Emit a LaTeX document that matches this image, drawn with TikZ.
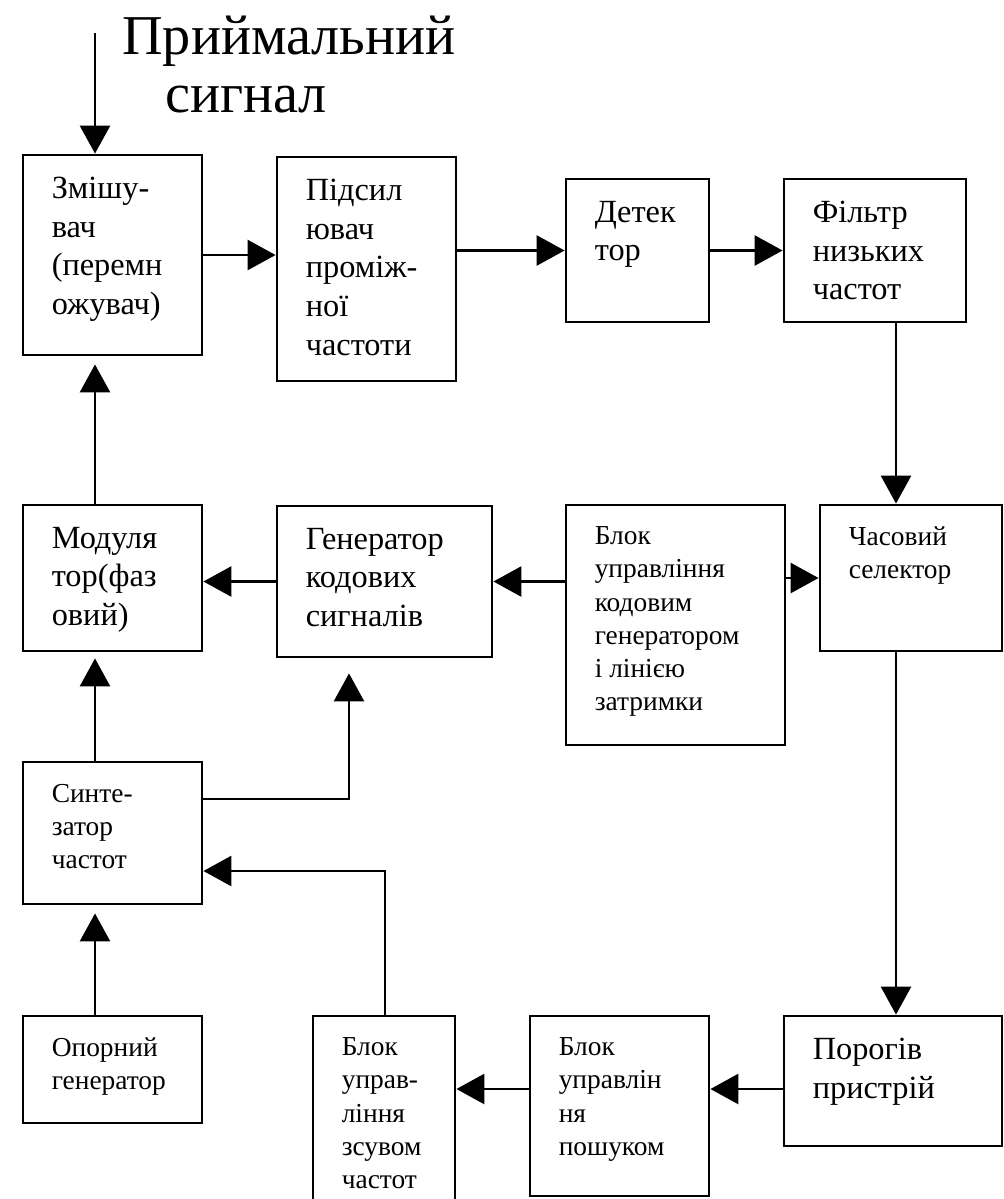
\documentclass[tikz,border=0pt]{standalone}
\usepackage{fontspec}
\setmainfont{Liberation Serif}
\usepackage{tikz}
\usetikzlibrary{arrows.meta}

\newcommand{\blocktext}[3]{\parbox[c][#2][t]{#1}{\raggedright\leftskip=0.72cm\vspace*{0.55cm}#3}}

\begin{document}
\begin{tikzpicture}[
    x=0.025cm, y=-0.025cm,
    >={Triangle[length=7mm, width=7.5mm]},
    block/.style={draw, line width=2pt, inner sep=0pt},
    big/.style={font=\fontsize{23}{27.5}\selectfont},
    small/.style={font=\fontsize{19.5}{23.5}\selectfont},
    arr/.style={->, line width=2pt},
]
    \useasboundingbox (0,0) rectangle (1004,1199);

    % ── Title ─────────────────────────────────────
    \node[anchor=north west, align=left, inner sep=0pt,
          font=\fontsize{40}{41}\selectfont] (title) at (122,16)
         {Приймальний\\\hspace*{1.07cm}сигнал};

    % ── Receiver chain (top row) ──────────────────
    \node[block, big] (mix) at (112.5,255)
         {\blocktext{4.475cm}{5cm}{Змішу-\\вач\\(перемн\\ожувач)}};
    \node[block, big] (amp) at (366.5,269)
         {\blocktext{4.475cm}{5.6cm}{Підсил\\ювач\\проміж-\\ної\\частоти}};
    \node[block, big] (det) at (637.5,250.5)
         {\blocktext{3.575cm}{3.575cm}{Детек\\тор}};
    \node[block, big] (flt) at (875,250.5)
         {\blocktext{4.55cm}{3.575cm}{Фільтр\\низьких\\частот}};

    % ── Middle row ────────────────────────────────
    \node[block, big] (mod) at (112.5,578)
         {\blocktext{4.475cm}{3.65cm}{Модуля\\тор(фаз\\овий)}};
    \node[block, big] (gen) at (384.5,581.5)
         {\blocktext{5.375cm}{3.775cm}{Генератор\\кодових\\сигналів}};
    \node[block, small] (ctl) at (675.5,625)
         {\blocktext{5.475cm}{6cm}{Блок\\управління\\кодовим\\генератором\\і лінією\\затримки}};
    \node[block, small] (sel) at (911,578)
         {\blocktext{4.55cm}{3.65cm}{Часовий\\селектор}};

    % ── Lower blocks ──────────────────────────────
    \node[block, small] (syn) at (112.5,833)
         {\blocktext{4.475cm}{3.55cm}{Синте-\\затор\\частот}};
    \node[block, small] (ref) at (112.5,1069.5)
         {\blocktext{4.475cm}{2.675cm}{Опорний\\генератор}};
    \node[block, small] (zsv) at (384,1128)
         {\blocktext{3.55cm}{5.6cm}{Блок\\управ-\\ління\\зсувом\\частот}};
    \node[block, small] (srch) at (619.5,1106)
         {\blocktext{4.475cm}{4.5cm}{Блок\\управлін\\ня\\пошуком}};
    \node[block, big] (thr) at (893,1081)
         {\blocktext{5.45cm}{3.25cm}{Порогів\\пристрій}};

    % ── Connectors ────────────────────────────────
    \coordinate (sigin) at (95,33);
    \coordinate (selx) at (896,0);
    \coordinate (syngen) at (349,799);
    \coordinate (zsvsyn) at (385,871);
    \coordinate (row) at (0,1089);

    \draw[arr] (sigin) -- (sigin |- mix.north);
    \draw[arr] (mix.east) -- (mix.east -| amp.west);
    \draw[arr] (det.west -| amp.east) -- (det.west);
    \draw[arr] (det.east) -- (flt.west);
    \draw[arr] (selx |- flt.south) -- (selx |- sel.north);
    \draw[arr] (selx |- sel.south) -- (selx |- thr.north);
    \draw[arr] (sel.west -| ctl.east) -- (sel.west);
    \draw[arr] (ctl.west |- gen.east) -- (gen.east);
    \draw[arr] (gen.west) -- (gen.west -| mod.east);
    \draw[arr, shorten >=0.2cm] (sigin |- mod.north) -- (sigin |- mix.south);
    \draw[arr, shorten >=0.15cm] (sigin |- syn.north) -- (sigin |- mod.south);
    \draw[arr, shorten >=0.2cm] (sigin |- ref.north) -- (sigin |- syn.south);
    \draw[arr, shorten >=0.375cm] (syn.east |- syngen) -- (syngen)
         -- (syngen |- gen.south);
    \draw[arr] (zsvsyn |- zsv.north) -- (zsvsyn) -- (syn.east |- zsvsyn);
    \draw[arr] (thr.west |- row) -- (srch.east |- row);
    \draw[arr] (srch.west |- row) -- (zsv.east |- row);
\end{tikzpicture}
\end{document}
